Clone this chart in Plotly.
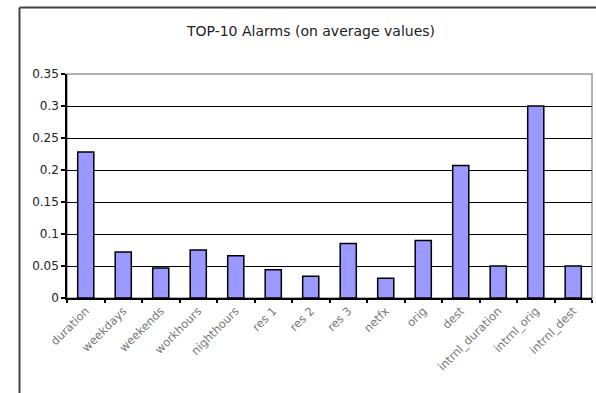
import plotly.graph_objects as go

categories = ["duration", "weekdays", "weekends", "workhours", "nighthours", "res 1", "res 2",
              "res 3", "netfx", "orig", "dest", "intrnl_duration", "intrnl_orig", "intrnl_dest"]
values = [0.228, 0.072, 0.047, 0.075, 0.066, 0.044, 0.034, 0.085, 0.031, 0.090, 0.207, 0.050, 0.300, 0.050]
y_ticks = [0, 0.05, 0.1, 0.15, 0.2, 0.25, 0.3, 0.35]
y_tick_text = ["0", "0.05", "0.1", "0.15", "0.2", "0.25", "0.3", "0.35"]
title = "TOP-10 Alarms (on average values)"

W, H = 596, 393
L, R, T, B = 67, 4, 74, 95
pw, ph = W - L - R, H - T - B

def px_x(px):
    return (px - L) / pw

def px_y(py):
    return (H - B - py) / ph

FONT = "DejaVu Sans, Liberation Sans, Arial, sans-serif"

fig = go.Figure(go.Bar(
    x=categories, y=values,
    marker=dict(color="#9999FF", line=dict(color="black", width=1.5)),
))

fig.update_layout(
    width=W, height=H,
    margin=dict(l=L, r=R, t=T, b=B),
    paper_bgcolor="white", plot_bgcolor="white",
    bargap=0.57,
    showlegend=False,
    font=dict(family=FONT, size=11, color="#333333"),
    title=dict(text=title, xref="container", x=311 / W, xanchor="center",
               yref="container", y=1 - 31 / H, yanchor="middle",
               font=dict(family=FONT, size=14, color="#222222")),
    shapes=[
        dict(type="line", xref="paper", yref="paper", x0=px_x(19.5), x1=px_x(600),
             y0=px_y(7.5), y1=px_y(7.5), line=dict(color="#444444", width=2)),
        dict(type="line", xref="paper", yref="paper", x0=px_x(19.5), x1=px_x(19.5),
             y0=px_y(7.5), y1=px_y(400), line=dict(color="#444444", width=2)),
        dict(type="rect", xref="paper", yref="paper", x0=0, x1=1, y0=0, y1=1,
             line=dict(color="#999999", width=1.5), layer="below"),
    ],
)

fig.update_xaxes(
    type="category", tickangle=-45, automargin=False,
    showline=True, linecolor="black", linewidth=1.5,
    ticks="outside", tickson="boundaries", ticklen=3, tickcolor="black", tickwidth=1.5,
    showgrid=False,
    tickfont=dict(family=FONT, size=11.5, color="#777777"),
)
fig.update_yaxes(
    range=[0, 0.35], tickvals=y_ticks, ticktext=y_tick_text, automargin=False,
    showline=True, linecolor="black", linewidth=1.5,
    ticks="outside", ticklen=4, tickcolor="black", tickwidth=1.5,
    showgrid=True, gridcolor="black", gridwidth=1.2,
    zeroline=False,
    tickfont=dict(family=FONT, size=12, color="#222222"),
)

fig.write_html("out.html")
